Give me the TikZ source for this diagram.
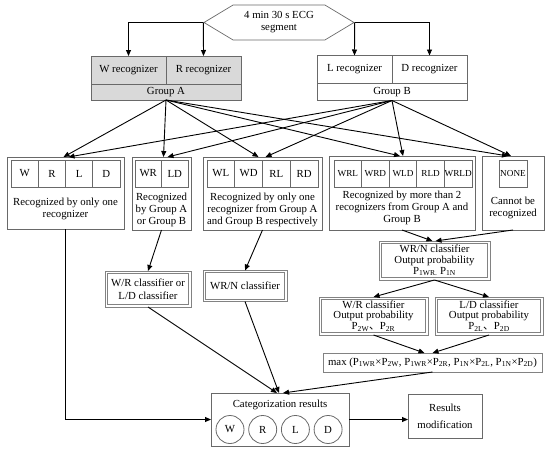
\documentclass[tikz,border=0pt]{standalone}
\usepackage{fontspec}
\setmainfont{Liberation Serif}
\newfontfamily\cjk{Noto Sans CJK SC}
\usetikzlibrary{arrows.meta, shapes.symbols, calc}
\definecolor{boxgray}{RGB}{105, 105, 105}
\definecolor{linegray}{RGB}{130, 130, 130}
\definecolor{groupfill}{RGB}{217, 217, 217}

\begin{document}
\begin{tikzpicture}[x=1pt, y=-1pt,
    font=\fontsize{10.8}{12}\selectfont,
    rect/.style 2 args={draw=boxgray, line width=0.8pt, inner sep=0pt, outer sep=0pt,
                        minimum width=#1, minimum height=#2},
    cell/.style={draw=boxgray, line width=0.8pt, inner sep=0pt, outer sep=0pt,
                 minimum height=27pt, minimum width=#1},
    dbox/.style 2 args={rect={#1}{#2}, draw=linegray, align=center,
                        font=\fontsize{10.8}{10.8}\selectfont},
    dinner/.style 2 args={draw=linegray, line width=0.8pt, inner sep=0pt, outer sep=0pt,
                          minimum width=#1-4.5pt, minimum height=#2-4.5pt},
    txt/.style={align=center, inner sep=0pt},
    arr/.style={-{Triangle[length=6pt, width=5pt]}, line width=0.9pt}
]
    \useasboundingbox (0,0) rectangle (550,453);

    % ECG segment
    \node[signal, signal to=west and east, signal pointer angle=62, draw=boxgray,
          line width=0.7pt, minimum width=150pt, minimum height=35pt, inner sep=0pt,
          align=center] (ecg) at (279,22.5) {4 min 30 s ECG\\segment};

    % Group A
    \node[rect={75pt}{28pt}, fill=groupfill] (wrec) at (128.5,70) {W recognizer};
    \node[rect={75pt}{28pt}, fill=groupfill] (rrec) at (203.5,70) {R recognizer};
    \node[rect={150pt}{16pt}, fill=groupfill] (groupA) at (166,92) {Group A};

    % Group B
    \node[rect={75pt}{28pt}] (lrec) at (354.5,69.5) {L recognizer};
    \node[rect={75pt}{28pt}] (drec) at (429.5,69.5) {D recognizer};
    \node[rect={150pt}{17pt}] (groupB) at (392,92) {Group B};

    \draw[arr] (ecg.west) -| (wrec.north);
    \draw[arr] (ecg.west) -- (rrec.north);
    \draw[arr] (ecg.east) -- (lrec.north);
    \draw[arr] (ecg.east) -| (drec.north);

    % Result boxes
    \node[rect={117pt}{72pt}] (one) at (65.5,193) {};
    \foreach \t [count=\i] in {W,R,L,D}
        \node[cell=27.25pt] (one\i) at ({11+27.25*(\i-0.5)},173.5) {\t};
    \node[txt] (onetxt) at (65.5,208.5) {Recognized by only one\\recognizer};

    \node[rect={59pt}{73pt}] (grp) at (161.5,193.5) {};
    \foreach \t [count=\i] in {WR,LD}
        \node[cell=26.5pt] (grp\i) at ({135+26.5*(\i-0.5)},173.5) {\t};
    \node[txt] (grptxt) at (161.5,210) {Recognized\\by Group A\\or Group B};

    \node[rect={119pt}{73pt}] (pair) at (262.5,193.5) {};
    \foreach \t [count=\i] in {WL,WD,RL,RD}
        \node[cell=27.75pt] (pair\i) at ({207+27.75*(\i-0.5)},173.5) {\t};
    \node[txt] (pairtxt) at (262.5,210) {Recognized by only one\\recognizer from Group A\\and Group B respectively};

    \node[rect={146pt}{74pt}] (more) at (402,193) {};
    \foreach \t [count=\i] in {WRL,WRD,WLD,RLD,WRLD}
        \node[cell=27.6pt, font=\fontsize{9.2}{9}\selectfont] (more\i) at ({334+27.6*(\i-0.5)},173.5) {\t};
    \node[txt] (moretxt) at (402,208) {Recognized by more than 2\\recognizers from Group A and\\Group B};

    \node[rect={62pt}{74pt}] (none) at (513,193) {};
    \node[cell=28pt, font=\fontsize{9.2}{9}\selectfont] (none1) at (513,173.5) {NONE};
    \node[txt] (nonetxt) at (513,208) {Cannot be\\recognized};

    \foreach \n/\a/\b in {one/-2/3, grp/2/6, pair/-4/3, more/-2/1, none/-5/-2} {
        \draw[arr] (groupA.south) -- ([xshift=\a pt]\n.north);
        \draw[arr] (groupB.south) -- ([xshift=\b pt]\n.north);
    }

    % Classifiers
    \node[dbox={86pt}{36pt}, font=\fontsize{10.8}{13}\selectfont] (clsA) at (148,289) {W/R classifier or\\L/D classifier};
    \node[dinner={86pt}{36pt}] (clsAin) at (clsA) {};
    \node[dbox={84pt}{31pt}] (wrn) at (245,286) {WR/N classifier};
    \node[dinner={84pt}{31pt}] (wrnin) at (wrn) {};
    \node[dbox={111pt}{39pt}] (pone) at (434.5,260.5)
        {WR/N classifier\\Output probability\\P\textsubscript{1WR.} P\textsubscript{1N}};
    \node[dinner={111pt}{39pt}] (ponein) at (pone) {};
    \node[dbox={109pt}{38pt}] (ptwoA) at (373.5,316)
        {W/R classifier\\Output probability\\P\textsubscript{2W}{\cjk 、}P\textsubscript{2R}};
    \node[dinner={109pt}{38pt}] (ptwoAin) at (ptwoA) {};
    \node[dbox={108pt}{38pt}] (ptwoB) at (489,316)
        {L/D classifier\\Output probability\\P\textsubscript{2L}{\cjk 、}P\textsubscript{2D}};
    \node[dinner={108pt}{38pt}] (ptwoBin) at (ptwoB) {};
    \node[rect={219pt}{19pt}, draw=linegray] (maxp) at (432.5,362.5)
        {max (P\textsubscript{1WR}×P\textsubscript{2W}, P\textsubscript{1WR}×P\textsubscript{2R}, P\textsubscript{1N}×P\textsubscript{2L}, P\textsubscript{1N}×P\textsubscript{2D})};

    \draw[arr] (grp.south) -- (clsA.north);
    \draw[arr] (pair.south) -- (wrn.north);
    \draw[arr] (more.south) -- ([xshift=-2pt]pone.north);
    \draw[arr] (none.south) -- ([xshift=1pt]pone.north);
    \draw[arr] (pone.south) -- (ptwoA.north);
    \draw[arr] (pone.south) -- (ptwoB.north);
    \draw[arr] (ptwoA.south) -- ([xshift=-8pt]maxp.north);
    \draw[arr] (ptwoB.south) -- ([xshift=0pt]maxp.north);

    % Categorization
    \node[rect={138pt}{53pt}] (cat) at (280,419.5) {};
    \node[txt] (cattxt) at (280,405) {Categorization results};
    \foreach \t [count=\i] in {W,R,L,D}
        \node[circle, draw=boxgray, line width=0.8pt, minimum size=28pt, inner sep=0pt]
            (cat\i) at ({230+32.7*(\i-1)},429.5) {\t};
    \node[rect={74pt}{44pt}, align=center] (res) at (445,416) {Results\\[5pt]modification};

    \draw[arr] (one.south) |- (cat.west);
    \draw[arr] (clsA.south) -- ([xshift=-3pt]cat.north);
    \draw[arr] (wrn.south) -- ([xshift=-1pt]cat.north);
    \draw[arr] (maxp.south) -- ([xshift=3pt]cat.north);
    \draw[arr] (cat.east) -- (cat.east -| res.west);
\end{tikzpicture}
\end{document}
